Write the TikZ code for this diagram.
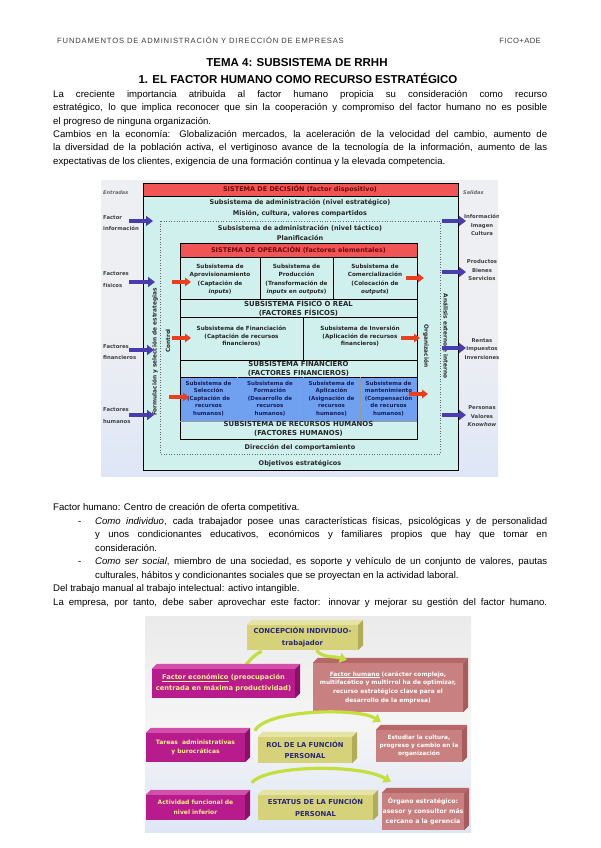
\documentclass[tikz,border=0pt]{standalone}
\usepackage{fontspec}
\setmainfont{Liberation Sans}
\newfontfamily\dvs{DejaVu Sans}
\usetikzlibrary{arrows.meta,calc}
\definecolor{cyanbg}{RGB}{208,240,238}
\definecolor{panelgray}{RGB}{238,239,242}
\definecolor{panelblue}{RGB}{222,230,246}
\definecolor{redbar}{RGB}{240,84,84}
\definecolor{darkred}{RGB}{110,10,10}
\definecolor{cellblue}{RGB}{112,160,240}
\definecolor{celltext}{RGB}{20,30,90}
\definecolor{purplearrow}{RGB}{72,60,176}
\definecolor{redarrow}{RGB}{232,64,30}
\definecolor{magentabox}{RGB}{184,28,140}
\definecolor{magentatop}{RGB}{208,80,172}
\definecolor{magentaside}{RGB}{140,16,104}
\definecolor{khakibox}{RGB}{214,210,122}
\definecolor{khakitop}{RGB}{230,228,164}
\definecolor{khakiside}{RGB}{176,172,88}
\definecolor{rosebox}{RGB}{200,128,128}
\definecolor{rosetop}{RGB}{182,104,104}
\definecolor{roseside}{RGB}{166,92,92}
\definecolor{greenarrow}{RGB}{196,222,60}
\definecolor{navytext}{RGB}{40,40,120}
\definecolor{yellowtext}{RGB}{248,240,140}
\definecolor{headgray}{RGB}{60,60,60}
\newcommand\extrude[3]{%
  \fill[#2] (#1.north west) -- ++(5,-5) -- ($(#1.north east)+(5,-5)$) -- (#1.north east) -- cycle;
  \fill[#3] (#1.north east) -- ++(5,-5) -- ($(#1.south east)+(5,-5)$) -- (#1.south east) -- cycle;}
\tikzset{
  dg/.style={inner sep=0, align=center, text=black!85, font=\dvs\bfseries\fontsize{6.5}{7.5}\selectfont},
  hd/.style={inner sep=0, align=center, text=black!85, font=\dvs\bfseries\fontsize{6.9}{9}\selectfont},
  cell/.style={inner sep=0, align=center, text=black!85, font=\dvs\bfseries\fontsize{5.7}{8.3}\selectfont},
  bcell/.style={inner sep=0, align=center, text=celltext, font=\dvs\bfseries\fontsize{5.5}{7.6}\selectfont},
  sidelbl/.style={inner sep=0, align=left, anchor=west, text=black!75, font=\dvs\bfseries\fontsize{5.3}{11.5}\selectfont},
  outlbl/.style={inner sep=0, align=center, text=black!75, font=\dvs\bfseries\fontsize{5.3}{8.5}\selectfont},
  rot/.style={inner sep=0, text=black!85, font=\dvs\bfseries\fontsize{5.8}{7}\selectfont},
  parrow/.style={line width=4.5pt, draw=purplearrow, -{Triangle[width=10pt,length=7pt]}},
  rarrow/.style={line width=3.5pt, draw=redarrow, -{Triangle[width=8.5pt,length=6pt]}},
  garrow/.style={line width=3.2pt, draw=greenarrow, -{Triangle[width=10pt,length=7pt]}},
  front/.style={inner sep=0, align=center},
  body/.style={inner sep=0, anchor=base west, font=\fontsize{9.6}{12}\selectfont},
}
\begin{document}
\begin{tikzpicture}[x=1pt,y=-1pt]
\useasboundingbox (0,0) rectangle (600,848);
\fill[white] (0,0) rectangle (600,848);

% header
\node[anchor=base west, inner sep=0, text=headgray, font=\fontsize{7.6}{8}\selectfont\addfontfeatures{LetterSpace=11}] (hdrL) at (57,44) {FUNDAMENTOS DE ADMINISTRACIÓN Y DIRECCIÓN DE EMPRESAS};
\node[anchor=base east, inner sep=0, text=headgray, font=\fontsize{7.6}{8}\selectfont\addfontfeatures{LetterSpace=6}] (hdrR) at (541,44) {FICO+ADE};

% titles
\node[anchor=base, inner sep=0, font=\bfseries\fontsize{11.5}{13}\selectfont] (t1) at (297,67) {TEMA 4: SUBSISTEMA DE RRHH};
\node[anchor=base, inner sep=0, font=\bfseries\fontsize{11.5}{13}\selectfont] (t2) at (298,84) {1. EL FACTOR HUMANO COMO RECURSO ESTRATÉGICO};

% paragraph 1
\node[body] (l1) at (53,97.5) {\makebox[494pt][s]{La creciente importancia atribuida al factor humano propicia su consideración como recurso}};
\node[body] (l2) at (53,110.8) {\makebox[494pt][s]{estratégico, lo que implica reconocer que sin la cooperación y compromiso del factor humano no es posible}};
\node[body] (l3) at (53,124.1) {el progreso de ninguna organización.};
\node[body] (l4) at (53,137.5) {\makebox[494pt][s]{Cambios en la economía: Globalización mercados, la aceleración de la velocidad del cambio, aumento de}};
\node[body] (l5) at (53,150.8) {\makebox[494pt][s]{la diversidad de la población activa, el vertiginoso avance de la tecnología de la información, aumento de las}};
\node[body] (l6) at (53,164.1) {expectativas de los clientes, exigencia de una formación continua y la elevada competencia.};

% paragraph 2
\node[body] (l7) at (53,510.5) {Factor humano: Centro de creación de oferta competitiva.};
\node[body] (d1) at (78,524) {-};
\node[body] (l8) at (95,524) {\makebox[452pt][s]{\textit{Como individuo}, cada trabajador posee unas características físicas, psicológicas y de personalidad}};
\node[body] (l9) at (95,537.5) {\makebox[452pt][s]{y unos condicionantes educativos, económicos y familiares propios que hay que tomar en}};
\node[body] (l10) at (95,551) {consideración.};
\node[body] (d2) at (78,564.5) {-};
\node[body] (l11) at (95,564.5) {\makebox[452pt][s]{\textit{Como ser social}, miembro de una sociedad, es soporte y vehículo de un conjunto de valores, pautas}};
\node[body] (l12) at (95,578) {culturales, hábitos y condicionantes sociales que se proyectan en la actividad laboral.};
\node[body] (l13) at (53,591.5) {Del trabajo manual al trabajo intelectual: activo intangible.};
\node[body] (l14) at (53,605) {\makebox[494pt][s]{La empresa, por tanto, debe saber aprovechar este factor: innovar y mejorar su gestión del factor humano.}};

% ================= top diagram =================
\begin{scope}
\clip (101,180) rectangle (498,476);
\shade[top color=panelgray, bottom color=panelblue, middle color=panelgray] (101,180) rectangle (498,476);
\draw[cyanbg, fill=cyanbg] (143,183) rectangle (458,470);
\draw[line width=0.9pt] (143,183) rectangle (458,470);
\draw[fill=redbar, line width=0.6pt] (143,183) rectangle (458,196);
\draw[dotted, line width=0.6pt, black!60] (160,221) rectangle (440,454);
% operation box
\fill[cellblue] (180,377) rectangle (417,421);
\draw[fill=redbar, line width=0.6pt] (180,243) rectangle (417,257);
\draw[line width=0.8pt] (180,243) rectangle (417,439);
\draw[line width=0.6pt] (260,257) -- (260,299) (333,257) -- (333,299);
\draw[line width=0.6pt] (180,299) -- (417,299) (180,317) -- (417,317);
\draw[line width=0.6pt] (303,317) -- (303,360);
\draw[line width=0.6pt] (180,360) -- (417,360) (180,377) -- (417,377);
\draw[line width=0.4pt, black!40] (237,377) -- (237,421) (303,377) -- (303,421) (360,377) -- (360,421) (180,421) -- (417,421);

\node[dg, text=darkred] (sd) at (300,189.5) {SISTEMA DE DECISIÓN (factor dispositivo)};
\node[dg] (ae) at (300,203) {Subsistema de administración (nivel estratégico)};
\node[dg] (mi) at (300,214) {Misión, cultura, valores compartidos};
\node[dg] (at) at (300,228) {Subsistema de administración (nivel táctico)};
\node[dg] (pl) at (300,238) {Planificación};
\node[dg, text=darkred] (so) at (298.5,250) {SISTEMA DE OPERACIÓN (factores elementales)};
\node[cell] (c1) at (220,279.5) {Subsistema de\\Aprovisionamiento\\(Captación de\\\textit{inputs})};
\node[cell] (c2) at (296.5,279.5) {Subsistema de\\Producción\\(Transformación de\\\textit{inputs} en \textit{outputs})};
\node[cell] (c3) at (375,279.5) {Subsistema de\\Comercialización\\(Colocación de\\\textit{outputs})};
\node[hd] (sf) at (298.5,308.5) {SUBSISTEMA FÍSICO O REAL\\(FACTORES FÍSICOS)};
\node[cell, font=\dvs\bfseries\fontsize{5.7}{7.5}\selectfont] (cf) at (241.5,336.5) {Subsistema de Financiación\\(Captación de recursos\\financieros)};
\node[cell, font=\dvs\bfseries\fontsize{5.7}{7.5}\selectfont] (ci) at (360,336.5) {Subsistema de Inversión\\(Aplicación de recursos\\financieros)};
\node[hd] (sfi) at (298.5,369.2) {SUBSISTEMA FINANCIERO\\(FACTORES FINANCIEROS)};
\node[bcell] (h1) at (208.5,398.5) {Subsistema de\\Selección\\(Captación de\\recursos\\humanos)};
\node[bcell] (h2) at (270,398.5) {Subsistema de\\Formación\\(Desarrollo de\\recursos\\humanos)};
\node[bcell] (h3) at (331.5,398.5) {Subsistema de\\Aplicación\\(Asignación de\\recursos\\humanos)};
\node[bcell] (h4) at (388.5,398.5) {Subsistema de\\mantenimiento\\(Compensación\\de recursos\\humanos)};
\node[hd] (sh) at (298.5,429) {SUBSISTEMA DE RECURSOS HUMANOS\\(FACTORES HUMANOS)};
\node[dg] (dc) at (300,448) {Dirección del comportamiento};
\node[dg] (oe) at (300,464) {Objetivos estratégicos};
\node[rot, rotate=90] (fs) at (155,352) {Formulación y selección de estrategias};
\node[rot, rotate=90] (ct) at (168,341) {Control};
\node[rot, rotate=-90] (or) at (426,346) {Organización};
\node[rot, rotate=-90] (an) at (446,336) {Análisis externo e interno};

% side labels
\node[sidelbl, font=\dvs\bfseries\itshape\fontsize{5}{6}\selectfont, text=black!60] (en) at (103,193) {Entradas};
\node[sidelbl] (fi) at (103,223) {Factor\\información};
\node[sidelbl] (ff) at (103,279.5) {Factores\\físicos};
\node[sidelbl] (ffi) at (103,352) {Factores\\financieros};
\node[sidelbl] (fh) at (103,415.5) {Factores\\humanos};
\node[sidelbl, font=\dvs\bfseries\itshape\fontsize{5}{6}\selectfont, text=black!60] (sa) at (463,193) {Salidas};
\node[outlbl] (o1) at (482,225) {Información\\Imagen\\Cultura};
\node[outlbl] (o2) at (482,270.5) {Productos\\Bienes\\Servicios};
\node[outlbl] (o3) at (482,349) {Rentas\\Impuestos\\Inversiones};
\node[outlbl] (o4) at (482,416.5) {Personas\\Valores\\\textit{Knowhow}};

% purple arrows
\coordinate (pa1s) at (129,221); \coordinate (pa1e) at (153,221);
\coordinate (pa2s) at (129,282); \coordinate (pa2e) at (155,282);
\coordinate (pa3s) at (129,350); \coordinate (pa3e) at (154,350);
\coordinate (pa4s) at (129,415); \coordinate (pa4e) at (154,415);
\coordinate (pb1s) at (442,221); \coordinate (pb1e) at (466,221);
\coordinate (pb2s) at (442,272); \coordinate (pb2e) at (466,272);
\coordinate (pb3s) at (442,348); \coordinate (pb3e) at (466,348);
\coordinate (pb4s) at (442,415); \coordinate (pb4e) at (466,415);
\foreach \i in {1,...,4}{\draw[parrow] (pa\i s) -- (pa\i e); \draw[parrow] (pb\i s) -- (pb\i e);}

% red arrows
\coordinate (ra1s) at (172,282); \coordinate (ra1e) at (191,282);
\coordinate (ra2s) at (406,278); \coordinate (ra2e) at (424,278);
\coordinate (ra3s) at (172,338); \coordinate (ra3e) at (191,338);
\coordinate (ra4s) at (401,338); \coordinate (ra4e) at (420,338);
\coordinate (ra5s) at (169,397); \coordinate (ra5e) at (189,397);
\coordinate (ra6s) at (409,394); \coordinate (ra6e) at (428,394);
\foreach \i in {1,...,6}{\draw[rarrow] (ra\i s) -- (ra\i e);}
\end{scope}

% ================= bottom diagram =================
\shade[top color=white!92!black, bottom color=panelblue, middle color=white!96!black] (145,616) rectangle (471,832);

\node[front, fill=khakibox, minimum width=111pt, minimum height=25pt, text=navytext, font=\dvs\bfseries\fontsize{6.9}{12}\selectfont] (b1) at (302.5,637.5) {CONCEPCIÓN INDIVIDUO-\\trabajador};
\extrude{b1}{khakitop}{khakiside}

\draw[garrow] ($(b1.south west)+(15,1)$) .. controls +(-8,3) and +(4,-6) .. ($(b1.south west)+(-6,22)$);

\node[front, fill=magentabox, minimum width=143pt, minimum height=29pt, text=yellowtext, font=\dvs\bfseries\fontsize{6.7}{11}\selectfont] (b2) at (223.5,683.5) {\underline{Factor económico} (preocupación\\centrada en máxima productividad)};
\extrude{b2}{magentatop}{magentaside}

\node[front, fill=rosebox, minimum width=150pt, minimum height=49pt, text=white, font=\dvs\bfseries\fontsize{5.9}{8.7}\selectfont] (b3) at (388,687.5) {\underline{Factor humano} (carácter complejo,\\multifacético y multirrol ha de optimizar,\\recurso estratégico clave para el\\desarrollo de la empresa)};
\extrude{b3}{rosetop}{roseside}

\node[front, fill=magentabox, minimum width=99pt, minimum height=29pt, text=yellowtext, font=\dvs\bfseries\fontsize{6}{9.5}\selectfont] (b4) at (195.5,747.5) {Tareas\ \ administrativas\\y burocráticas};
\extrude{b4}{magentatop}{magentaside}

\node[front, fill=khakibox, minimum width=94pt, minimum height=26pt, text=navytext, font=\dvs\bfseries\fontsize{6.8}{11}\selectfont] (b5) at (305,750) {ROL DE LA FUNCIÓN\\PERSONAL};
\extrude{b5}{khakitop}{khakiside}

\node[front, fill=rosebox, minimum width=86pt, minimum height=32pt, text=white, font=\dvs\bfseries\fontsize{5.8}{8}\selectfont] (b6) at (419,746) {Estudiar la cultura,\\progreso y cambio en la\\organización};
\extrude{b6}{rosetop}{roseside}

\node[front, fill=magentabox, minimum width=99pt, minimum height=25pt, text=yellowtext, font=\dvs\bfseries\fontsize{6}{10}\selectfont] (b7) at (195.5,807.5) {Actividad funcional de\\nivel inferior};
\extrude{b7}{magentatop}{magentaside}

\node[front, fill=khakibox, minimum width=115pt, minimum height=25pt, text=navytext, font=\dvs\bfseries\fontsize{6.8}{12}\selectfont] (b8) at (315.5,807.5) {ESTATUS DE LA FUNCIÓN\\PERSONAL};
\extrude{b8}{khakitop}{khakiside}

\node[front, fill=rosebox, minimum width=82pt, minimum height=37pt, text=white, font=\dvs\bfseries\fontsize{6.2}{10}\selectfont] (b9) at (423,811.5) {Órgano estratégico:\\asesor y consultor más\\cercano a la gerencia};
\extrude{b9}{rosetop}{roseside}

% green curved arrows
\draw[garrow] ($(b1.south)+(14,0)$) .. controls +(6,8) and +(-14,-4) .. ($(b3.north west)+(34,-3)$);
\draw[garrow] ($(b5.north west)+(-3,-6)$) .. controls +(12,-22) and +(-22,-14) .. ($(b6.north west)+(5,-8)$);
\draw[garrow] ($(b8.north west)+(-6,-12)$) .. controls +(14,-18) and +(-30,-18) .. ($(b9.north west)+(9,-11)$);
\end{tikzpicture}
\end{document}
